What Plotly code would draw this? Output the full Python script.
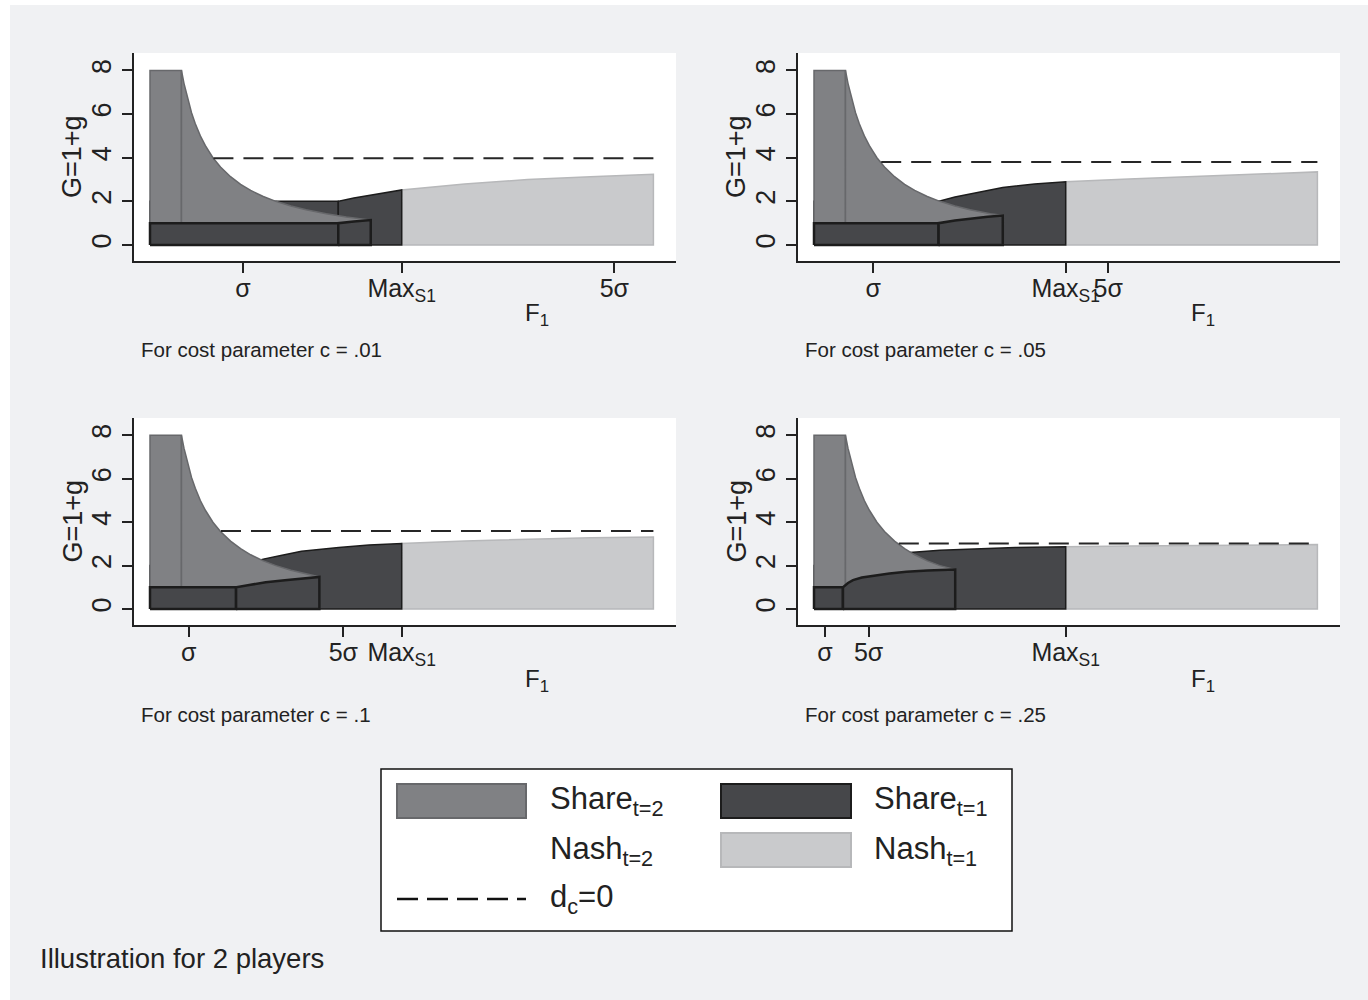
import plotly.graph_objects as go

W, H = 1368, 1000

# ---------------- data (F1 scaled so that Max_S1 = 1) ----------------
cost_labels = [".01", ".05", ".1", ".25"]
sigma_tick = [0.369, 0.235, 0.154, 0.044]
five_sigma_tick = [1.845, 1.169, 0.768, 0.217]
max_s1_tick = [1.0, 1.0, 1.0, 1.0]
nash_end = [2.0, 2.0, 2.0, 2.0]

# Share t=2 boundary (same curve in every panel)
cap_x = 0.125
cap_y = 8.0
hyp_x = [0.125, 0.135, 0.15, 0.165, 0.18, 0.2, 0.22, 0.25, 0.28, 0.32, 0.36, 0.4, 0.45,
         0.5, 0.56, 0.62, 0.7, 0.78, 0.88]
hyp_y = [8.0, 7.41, 6.67, 6.06, 5.56, 5.0, 4.55, 4.0, 3.57, 3.13, 2.78, 2.5, 2.22,
         2.0, 1.79, 1.61, 1.43, 1.28, 1.14]

# where the flat share parts end
box_break = [0.748, 0.495, 0.342, 0.115]

# lower (outlined) share t=1 piece, top curve after the break
lower_x = [[0.748, 0.81, 0.877],
           [0.495, 0.56, 0.62, 0.69, 0.75],
           [0.342, 0.4, 0.46, 0.536, 0.6, 0.673],
           [0.115, 0.135, 0.155, 0.19, 0.234, 0.3, 0.367, 0.45, 0.561]]
lower_y = [[1.0, 1.08, 1.14],
           [1.0, 1.12, 1.21, 1.29, 1.35],
           [1.0, 1.12, 1.23, 1.33, 1.41, 1.48],
           [1.0, 1.2, 1.33, 1.45, 1.53, 1.64, 1.72, 1.78, 1.82]]

# upper share t=1 region, top curve after the break up to Max_S1
upper_x = [[0.748, 0.81, 0.874, 0.94, 1.0],
           [0.495, 0.56, 0.631, 0.69, 0.75, 0.876, 1.0],
           [0.342, 0.4, 0.45, 0.52, 0.602, 0.75, 0.87, 1.0],
           [0.115, 0.25, 0.38, 0.5, 0.605, 0.8, 1.0]]
upper_y = [[2.0, 2.15, 2.28, 2.41, 2.52],
           [2.0, 2.2, 2.37, 2.5, 2.63, 2.8, 2.9],
           [2.0, 2.15, 2.3, 2.47, 2.66, 2.84, 2.95, 3.02],
           [2.0, 2.35, 2.6, 2.71, 2.76, 2.83, 2.87]]

# Nash t=1 region (Max_S1 .. end)
nash_x = [1.0, 1.25, 1.5, 1.75, 2.0]
nash_y = [[2.52, 2.8, 3.0, 3.13, 3.24],
          [2.90, 3.02, 3.12, 3.24, 3.35],
          [3.02, 3.14, 3.22, 3.28, 3.32],
          [2.87, 2.90, 2.93, 2.95, 2.97]]

# d_c = 0 dashed line
dc_level = [3.98, 3.8, 3.6, 3.02]
dc_start = [0.252, 0.267, 0.282, 0.337]

# ---------------- styles ----------------
BG = "#f0f1f3"
C_T2 = "#808184"
C_T2_LINE = "#67686b"
C_T1 = "#46474a"
C_T1_LINE = "#1c1c1c"
C_N1 = "#c9cacc"
C_N1_LINE = "#b7b8ba"
AX = "#222222"
FONT = "Liberation Sans, Arial, Helvetica, sans-serif"

# panel geometry in pixels: (left, right, top, bottom)
panels_px = [(134, 676, 53, 261), (798, 1340, 53, 261),
             (134, 676, 418, 625), (798, 1340, 418, 625)]
note_pos = [(139, 349), (803, 349), (139, 714), (803, 714)]
f1_pos = [(537, 315), (1203, 315), (537, 680), (1203, 680)]

fig = go.Figure()


def poly(xs, ys, fill, line, width, k):
    fig.add_trace(go.Scatter(
        x=xs, y=ys, mode="lines", fill="toself", fillcolor=fill,
        line=dict(color=line, width=width), hoverinfo="skip", showlegend=False,
        xaxis="x" if k == 0 else f"x{k+1}", yaxis="y" if k == 0 else f"y{k+1}"))


for k in range(4):
    xb = box_break[k]
    # Nash t=1 (light grey)
    nx = [nash_x[0]] + nash_x + [nash_end[k], nash_x[0]]
    ny = [0] + nash_y[k] + [0, 0]
    poly(nx, ny, C_N1, C_N1_LINE, 1.5, k)

    # upper Share t=1 (dark): flat box then rising curve
    poly([0, 0, xb, xb, 0], [0, 2.0, 2.0, 0, 0], C_T1, C_T1_LINE, 1.5, k)
    ux = [upper_x[k][0]] + upper_x[k] + [max_s1_tick[k], upper_x[k][0]]
    uy = [0] + upper_y[k] + [0, 0]
    poly(ux, uy, C_T1, C_T1_LINE, 1.5, k)

    # Share t=2 (medium grey): cap box and hyperbola part
    xe = lower_x[k][-1]
    ye = lower_y[k][-1]
    poly([0, 0, cap_x, cap_x, 0], [0, cap_y, cap_y, 0, 0], C_T2, C_T2_LINE, 1.5, k)
    hx = [x for x in hyp_x if x < xe - 0.01]
    hy = [hyp_y[i] for i, x in enumerate(hyp_x) if x < xe - 0.01]
    gx = [cap_x] + hx + [xe, xe, cap_x]
    gy = [0] + hy + [ye, 0, 0]
    poly(gx, gy, C_T2, C_T2_LINE, 1.5, k)

    # lower outlined pieces
    poly([0, 0, xb, xb, 0], [0, 1.0, 1.0, 0, 0], C_T1, C_T1_LINE, 2.5, k)
    lx = [lower_x[k][0]] + lower_x[k] + [xe, lower_x[k][0]]
    ly = [0] + lower_y[k] + [0, 0]
    poly(lx, ly, C_T1, C_T1_LINE, 2.5, k)

    # dashed d_c = 0
    fig.add_trace(go.Scatter(
        x=[dc_start[k], nash_end[k]], y=[dc_level[k], dc_level[k]], mode="lines",
        line=dict(color="#262626", width=2, dash="20px,10px"),
        hoverinfo="skip", showlegend=False,
        xaxis="x" if k == 0 else f"x{k+1}", yaxis="y" if k == 0 else f"y{k+1}"))

layout = dict(
    width=W, height=H, margin=dict(l=0, r=0, t=0, b=0),
    paper_bgcolor=BG, plot_bgcolor="white", showlegend=False,
    font=dict(family=FONT, color=AX),
)

annotations = []
shapes = []
for k in range(4):
    l, r, t, b = panels_px[k]
    xr = [(-16) / 251.7, (r - l - 16) / 251.7]
    sx = "xaxis" if k == 0 else f"xaxis{k+1}"
    sy = "yaxis" if k == 0 else f"yaxis{k+1}"
    ya = "y" if k == 0 else f"y{k+1}"
    xa = "x" if k == 0 else f"x{k+1}"
    layout[sx] = dict(
        domain=[l / W, r / W], range=xr, anchor=ya,
        tickmode="array",
        tickvals=[sigma_tick[k], max_s1_tick[k], five_sigma_tick[k]],
        ticktext=["σ", "Max<sub>S1</sub>", "5σ"],
        ticks="outside", ticklen=10, tickwidth=1.5, tickcolor=AX, tickangle=0,
        ticklabelstandoff=-6,
        showline=True, linecolor=AX, linewidth=1.5, mirror=False,
        showgrid=False, zeroline=False,
        tickfont=dict(size=25, family=FONT, color=AX), fixedrange=True)
    layout[sy] = dict(
        domain=[1 - b / H, 1 - t / H], range=[-0.735, 8.8], anchor=xa,
        tickmode="array", tickvals=[0, 2, 4, 6, 8], ticktext=["0", "2", "4", "6", "8"],
        ticks="outside", ticklen=10, tickwidth=1.5, tickcolor=AX, tickangle=-90,
        showline=True, linecolor=AX, linewidth=1.5, mirror=False,
        showgrid=False, zeroline=False,
        tickfont=dict(size=27, family=FONT, color=AX), fixedrange=True)
    # y title
    annotations.append(dict(
        text="G=1+g", textangle=-90, x=(l - 62) / W, y=1 - ((t + b) / 2) / H,
        xref="paper", yref="paper", showarrow=False, xanchor="center", yanchor="middle",
        font=dict(size=27, family=FONT, color=AX)))
    # x title
    fx, fy = f1_pos[k]
    annotations.append(dict(
        text="F<sub>1</sub>", x=fx / W, y=1 - fy / H, xref="paper", yref="paper",
        showarrow=False, xanchor="center", yanchor="middle",
        font=dict(size=24, family=FONT, color=AX)))
    # note
    nxp, nyp = note_pos[k]
    annotations.append(dict(
        text=f"For cost parameter c = {cost_labels[k]}", x=nxp / W, y=1 - nyp / H,
        xref="paper", yref="paper", showarrow=False, xanchor="left", yanchor="middle",
        font=dict(size=20.5, family=FONT, color=AX)))

# outer white strips (top/left border)
shapes.append(dict(type="rect", xref="paper", yref="paper", x0=0, x1=1, y0=1 - 5 / H, y1=1,
                   fillcolor="white", line=dict(width=0), layer="below"))
shapes.append(dict(type="rect", xref="paper", yref="paper", x0=0, x1=10 / W, y0=0, y1=1,
                   fillcolor="white", line=dict(width=0), layer="below"))


def px_rect(x0, y0, x1, y1, fill, line, lw):
    shapes.append(dict(type="rect", xref="paper", yref="paper",
                       x0=x0 / W, x1=x1 / W, y0=1 - y1 / H, y1=1 - y0 / H,
                       fillcolor=fill, line=dict(color=line, width=lw), layer="above"))


# legend box
px_rect(381, 769, 1012, 931, "white", "#111111", 1.5)
px_rect(397, 784, 526, 818, C_T2, C_T2_LINE, 2)
px_rect(721, 784, 851, 818, C_T1, C_T1_LINE, 2)
px_rect(721, 833, 851, 867, C_N1, C_N1_LINE, 2)
shapes.append(dict(type="line", xref="paper", yref="paper",
                   x0=397 / W, x1=526 / W, y0=1 - 899 / H, y1=1 - 899 / H,
                   line=dict(color="#111111", width=2.5, dash="21px,9px"), layer="above"))

legend_items = [("Share<sub>t=2</sub>", 548, 801), ("Share<sub>t=1</sub>", 872, 801),
                ("Nash<sub>t=2</sub>", 548, 851), ("Nash<sub>t=1</sub>", 872, 851),
                ("d<sub>c</sub>=0", 548, 899)]
for txt, x, y in legend_items:
    annotations.append(dict(text=txt, x=x / W, y=1 - y / H, xref="paper", yref="paper",
                            showarrow=False, xanchor="left", yanchor="middle",
                            font=dict(size=31, family=FONT, color=AX)))

annotations.append(dict(text="Illustration for 2 players", x=38 / W, y=1 - 958 / H,
                        xref="paper", yref="paper", showarrow=False,
                        xanchor="left", yanchor="middle",
                        font=dict(size=27.5, family=FONT, color=AX)))

layout["annotations"] = annotations
layout["shapes"] = shapes
fig.update_layout(**layout)
fig.write_html("out.html", config={"displayModeBar": False},
               post_script="document.body.style.margin='0';document.body.style.overflow='hidden';")
